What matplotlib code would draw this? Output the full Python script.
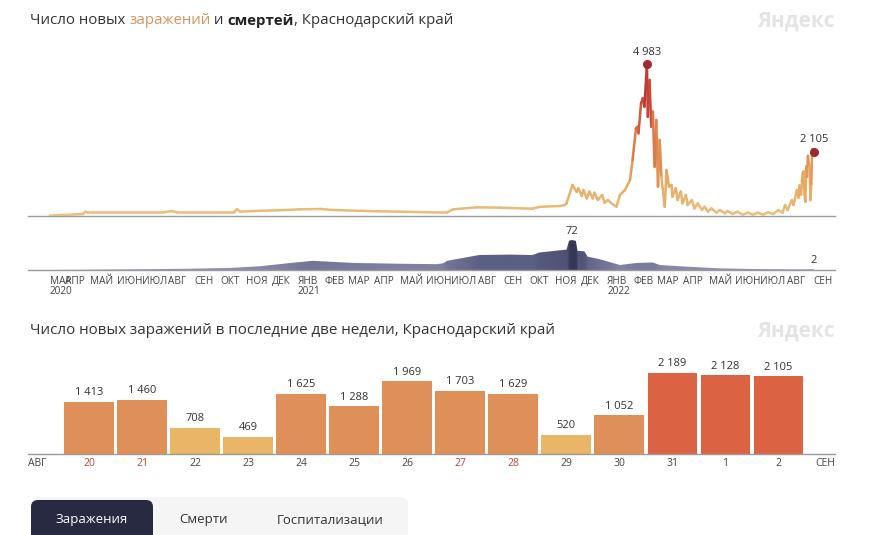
import matplotlib
matplotlib.use('Agg')
import matplotlib.pyplot as plt
import numpy as np
import pandas as pd
import matplotlib.dates as mdates
import matplotlib.transforms as mtransforms
from matplotlib.collections import LineCollection
from matplotlib.colors import LinearSegmentedColormap
from matplotlib.patches import FancyBboxPatch

plt.rcParams['font.family'] = ['Open Sans', 'DejaVu Sans']

# ---------------- data ----------------
case_dates = ['2020-03-14', '2020-04-22', '2020-04-25', '2020-04-27', '2020-05-04', '2020-07-26', '2020-08-05',
              '2020-08-11', '2020-10-17', '2020-10-21', '2020-10-25', '2020-11-09', '2020-12-19', '2021-01-03',
              '2021-01-27', '2021-02-11', '2021-03-23', '2021-05-01', '2021-06-09', '2021-06-26', '2021-07-03',
              '2021-07-31', '2021-08-27', '2021-10-05', '2021-10-13', '2021-11-06', '2021-11-12', '2021-11-14',
              '2021-11-21', '2021-11-26', '2021-11-28', '2021-12-02', '2021-12-04', '2021-12-08', '2021-12-11',
              '2021-12-15', '2021-12-17', '2021-12-21', '2021-12-26', '2021-12-29', '2022-01-02', '2022-01-06',
              '2022-01-12', '2022-01-16', '2022-01-22', '2022-01-28', '2022-01-31', '2022-02-04', '2022-02-06',
              '2022-02-07', '2022-02-10', '2022-02-12', '2022-02-14', '2022-02-17', '2022-02-18', '2022-02-20',
              '2022-02-22', '2022-02-24', '2022-02-26', '2022-02-28', '2022-03-02', '2022-03-04', '2022-03-06',
              '2022-03-10', '2022-03-12', '2022-03-15', '2022-03-18', '2022-03-19', '2022-03-23', '2022-03-25',
              '2022-03-29', '2022-03-31', '2022-04-04', '2022-04-06', '2022-04-11', '2022-04-14', '2022-04-18',
              '2022-04-23', '2022-04-26', '2022-04-30', '2022-05-04', '2022-05-10', '2022-05-14', '2022-05-20',
              '2022-05-23', '2022-05-29', '2022-06-04', '2022-06-10', '2022-06-16', '2022-06-22', '2022-06-28',
              '2022-07-04', '2022-07-10', '2022-07-16', '2022-07-22', '2022-07-27', '2022-07-30', '2022-08-02',
              '2022-08-07', '2022-08-09', '2022-08-13', '2022-08-15', '2022-08-16', '2022-08-18', '2022-08-19']
case_values = [10, 65, 142, 120, 120, 120, 164, 120, 120, 220, 140, 164, 197, 219,
               230, 197, 164, 142, 120, 120, 219, 284, 273, 240, 300, 328, 361, 415,
               1016, 798, 907, 656, 852, 579, 798, 579, 765, 525, 689, 437, 525, 415,
               306, 689, 852, 1180, 1836, 2874, 2929, 2710, 3694, 3858, 3585, 4983, 3257, 4459,
               2929, 3421, 1617, 3148, 962, 2492, 1290, 306, 1508, 962, 1016, 634, 907, 525,
               798, 415, 689, 361, 525, 251, 415, 197, 306, 142, 251, 109, 197, 87,
               164, 66, 142, 44, 109, 44, 109, 44, 120, 66, 197, 109, 361, 197,
               525, 361, 852, 600, 1000, 700, 1150]

death_dates = ['2020-03-14', '2020-05-12', '2020-07-10', '2020-08-23', '2020-10-13', '2020-11-17', '2020-12-19',
               '2021-01-18', '2021-02-07', '2021-03-07', '2021-05-01', '2021-06-14', '2021-06-21', '2021-06-26',
               '2021-08-03', '2021-09-08', '2021-10-05', '2021-10-13', '2021-11-14', '2021-11-17', '2021-11-20',
               '2021-11-25', '2021-11-27', '2021-12-05', '2021-12-09', '2021-12-23', '2022-01-16', '2022-02-05',
               '2022-02-24', '2022-03-04', '2022-04-05', '2022-05-14', '2022-06-22', '2022-08-19', '2022-09-02']
death_values = [0, 1, 2, 3, 5, 9, 16, 22, 20, 17, 15, 14, 16, 22, 36, 37, 36, 42, 49, 70, 72,
                70, 46, 45, 32, 26, 12, 17, 18, 12, 8, 4, 2.4, 1.5, 2]

bar_dates = ['2022-08-20', '2022-08-21', '2022-08-22', '2022-08-23', '2022-08-24', '2022-08-25', '2022-08-26',
             '2022-08-27', '2022-08-28', '2022-08-29', '2022-08-30', '2022-08-31', '2022-09-01', '2022-09-02']
bar_values = [1413, 1460, 708, 469, 1625, 1288, 1969, 1703, 1629, 520, 1052, 2189, 2128, 2105]
bar_labels = ['20', '21', '22', '23', '24', '25', '26', '27', '28', '29', '30', '31', '1', '2']

month_labels = ['МАР', 'АПР', 'МАЙ', 'ИЮН', 'ИЮЛ', 'АВГ', 'СЕН', 'ОКТ', 'НОЯ', 'ДЕК',
                'ЯНВ', 'ФЕВ', 'МАР', 'АПР', 'МАЙ', 'ИЮН', 'ИЮЛ', 'АВГ', 'СЕН', 'ОКТ', 'НОЯ', 'ДЕК',
                'ЯНВ', 'ФЕВ', 'МАР', 'АПР', 'МАЙ', 'ИЮН', 'ИЮЛ', 'АВГ', 'СЕН']
year_labels = ['2020', '2021', '2022']

# ---------------- figure ----------------
W, H = 890, 535
fig = plt.figure(figsize=(W / 100, H / 100), dpi=100)
fig.patch.set_facecolor('white')


def ax_px(l, t, r, b):
    return fig.add_axes([l / W, 1 - b / H, (r - l) / W, (b - t) / H])


def fy(y):
    return 1 - y / H


TXT = '#333333'
GRID = '#9a9a9a'

# overlay for shapes in pixel space
ov = fig.add_axes([0, 0, 1, 1])
ov.set_xlim(0, W)
ov.set_ylim(H, 0)
ov.axis('off')
ov.patch.set_alpha(0)

# ---- rich titles ----
renderer = fig.canvas.get_renderer()


def rich(x_px, y_px, parts, size):
    x = x_px
    for s, c, w in parts:
        t = fig.text(x / W, fy(y_px), s, color=c, fontsize=size, fontweight=w, va='center', ha='left')
        x += t.get_window_extent(renderer).width


rich(30, 21, [('Число новых ', TXT, 'normal'), ('заражений', '#d9925a', 'normal'),
              (' и ', TXT, 'normal'), ('смертей', '#222222', 'bold'),
              (', Краснодарский край', TXT, 'normal')], 10.85)
rich(30, 331, [('Число новых заражений в последние две недели, Краснодарский край', TXT, 'normal')], 10.9)

for yy in (21, 331):
    fig.text(835 / W, fy(yy), 'Яндекс', color='#e4e4e4', fontsize=15, fontweight='bold',
             ha='right', va='center')

# ---- top line chart ----
cd = mdates.date2num(pd.to_datetime(case_dates + bar_dates))
cv = np.array(case_values + bar_values, dtype=float)

x_jan21 = mdates.date2num(pd.Timestamp('2021-01-01'))
x_sep22 = mdates.date2num(pd.Timestamp('2022-09-01'))
dpp = (x_sep22 - x_jan21) / (813 - 298)  # days per pixel
xlim = (x_jan21 - (298 - 28) * dpp, x_jan21 + (835 - 298) * dpp)

axc = ax_px(28, 40, 835, 216)
axc.set_xlim(*xlim)
axc.set_ylim(0, 176 / 0.0305)
axc.axis('off')
axc.axhline(0, color=GRID, lw=1.0, zorder=1, clip_on=False)

lcmap = LinearSegmentedColormap.from_list('c', [(0, '#eabf7c'), (0.25, '#e6a660'), (0.55, '#dc6a42'),
                                                (0.8, '#c63e35'), (1, '#a8282c')])
pts = np.column_stack([cd, cv])
segs = np.stack([pts[:-1], pts[1:]], axis=1)
segval = (cv[:-1] + cv[1:]) / 2
lc = LineCollection(segs, cmap=lcmap, norm=plt.Normalize(0, 5000), linewidths=1.8,
                    capstyle='round', joinstyle='round', zorder=3)
lc.set_array(segval)
axc.add_collection(lc)

ipk = int(np.argmax(cv))
for i in (ipk, len(cv) - 1):
    axc.plot(cd[i], cv[i], 'o', color='#9e2a30', ms=5.5, zorder=4)
    axc.annotate(f'{int(cv[i]):,}'.replace(',', ' '), (cd[i], cv[i]), xytext=(0, 8.5),
                 textcoords='offset points', ha='center', va='center', fontsize=8, color=TXT)

# ---- deaths area ----
dd = mdates.date2num(pd.to_datetime(death_dates))
dv = np.array(death_values, dtype=float)
axd = ax_px(28, 222, 835, 270)
axd.set_xlim(*xlim)
dmax = 48 / 0.4167
axd.set_ylim(0, dmax)
axd.axis('off')
poly = axd.fill_between(dd, dv, 0, facecolor='none', edgecolor='none')
dcmap = LinearSegmentedColormap.from_list('d', ['#9496b5', '#5d6085', '#363955'])
grid = np.linspace(dd[0], dd[-1], 900)
colv = np.interp(grid, dd, dv)
im = axd.imshow(colv[None, :], extent=[dd[0], dd[-1], 0, dmax], aspect='auto', origin='lower',
                cmap=dcmap, vmin=0, vmax=72, zorder=2, interpolation='bilinear')
im.set_clip_path(poly.get_paths()[0], transform=axd.transData)
axd.set_xlim(*xlim)
axd.set_ylim(0, dmax)
axd.axhline(0, color=GRID, lw=1.0, zorder=3, clip_on=False)
idk = int(np.argmax(dv))
for i in (idk, len(dv) - 1):
    axd.annotate(f'{dv[i]:g}', (dd[i], dv[i]), xytext=(0, 6), textcoords='offset points',
                 ha='center', va='center', fontsize=8, color=TXT)

# month labels
mpos = list(mdates.date2num(pd.date_range('2020-03-01', '2022-09-01', freq='MS')))
mpos[0] = cd[0]
tr = mtransforms.blended_transform_factory(axd.transData, fig.transFigure)
for p, s in zip(mpos, month_labels):
    axd.text(p, fy(281), s, transform=tr, ha='left', va='center', fontsize=7.2, color='#444444',
             clip_on=False)
ypos = [cd[0], x_jan21, mdates.date2num(pd.Timestamp('2022-01-01'))]
for p, s in zip(ypos, year_labels):
    axd.text(p, fy(292), s, transform=tr, ha='left', va='center', fontsize=7.2, color='#444444',
             clip_on=False)

# ---- bar chart ----
axb = ax_px(28, 350, 835, 454)
pitch = 53.04
axb.set_xlim((28 - 89) / pitch, (835 - 89) / pitch)
axb.set_ylim(0, 104 / 0.037)
axb.axis('off')


def bar_color(v):
    if v < 1000:
        return '#e9b566'
    if v < 2000:
        return '#df9059'
    return '#db6344'


xs = np.arange(len(bar_values))
axb.bar(xs, bar_values, width=0.94, color=[bar_color(v) for v in bar_values], zorder=2)
axb.axhline(0, color=GRID, lw=1.0, zorder=3, clip_on=False)
for x, v in zip(xs, bar_values):
    axb.annotate(f'{v:,}'.replace(',', ' '), (x, v), xytext=(0, 6.5), textcoords='offset points',
                 ha='center', va='center', fontsize=8, color=TXT)
wk = pd.to_datetime(bar_dates).dayofweek >= 5
trb = mtransforms.blended_transform_factory(axb.transData, fig.transFigure)
for x, s, w in zip(xs, bar_labels, wk):
    axb.text(x, fy(464), s, transform=trb, ha='center', va='center', fontsize=7.5,
             color='#b5473a' if w else '#444444')
fig.text(28 / W, fy(464), 'АВГ', ha='left', va='center', fontsize=7.5, color='#444444')
fig.text(835 / W, fy(464), 'СЕН', ha='right', va='center', fontsize=7.5, color='#444444')

# ---- tabs ----
ov.add_patch(FancyBboxPatch((31, 497), 377, 60, boxstyle='round,pad=0,rounding_size=7',
                            facecolor='#f5f5f6', edgecolor='none'))
ov.add_patch(FancyBboxPatch((31, 500), 122, 60, boxstyle='round,pad=0,rounding_size=7',
                            facecolor='#272a40', edgecolor='none'))
fig.text(92 / W, fy(520), 'Заражения', ha='center', va='center', fontsize=9.5, color='white')
fig.text(203 / W, fy(520), 'Смерти', ha='center', va='center', fontsize=9.5, color=TXT)
fig.text(330 / W, fy(520), 'Госпитализации', ha='center', va='center', fontsize=9.5, color=TXT)

fig.savefig('out.png', dpi=100)
